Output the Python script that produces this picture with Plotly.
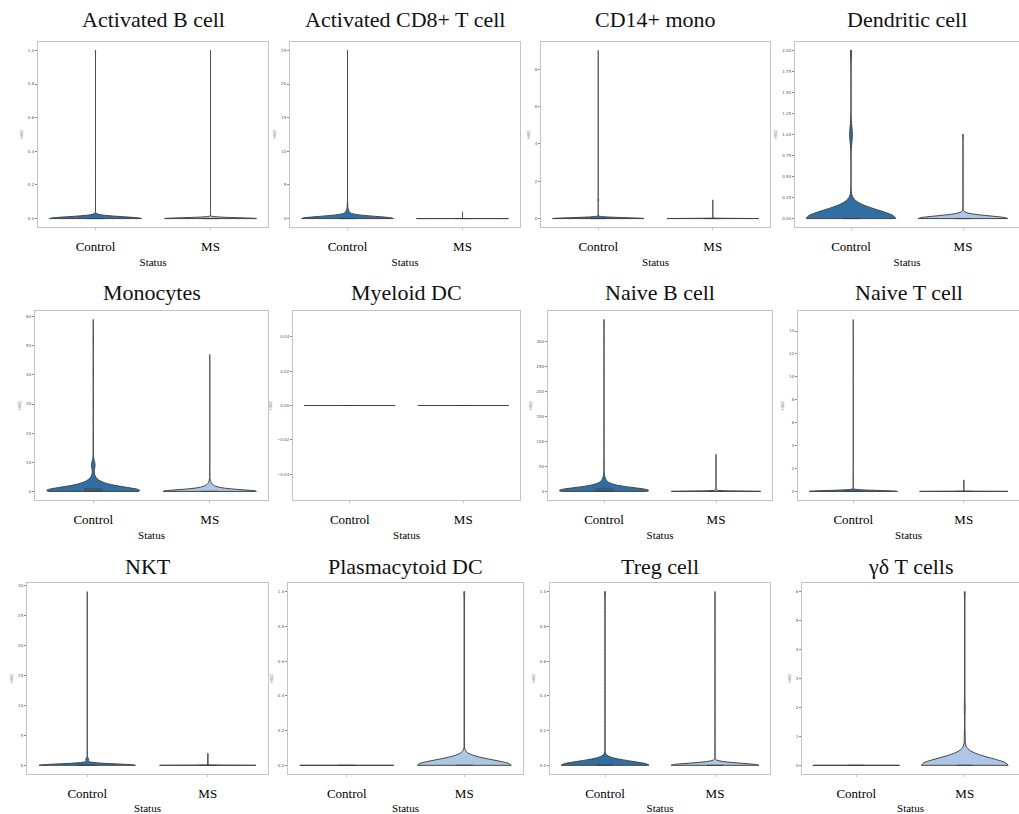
import numpy as np
import plotly.graph_objects as go

# ---------------- data ----------------
titles = ["Activated B cell", "Activated CD8+ T cell", "CD14+ mono", "Dendritic cell",
          "Monocytes", "Myeloid DC", "Naive B cell", "Naive T cell",
          "NKT", "Plasmacytoid DC", "Treg cell", "γδ T cells"]
categories = ["Control", "MS"]

# distinct expression values and number of cells at each value
control_values = [
    [0, 1], [0, 1, 2, 25], [0, 1, 9], [0, 1, 2],
    [0, 1, 2, 3, 4, 5, 6, 8, 9, 10, 12, 14, 17, 22, 25, 59], [0],
    [0, 2, 4, 6, 8, 10, 12, 15, 18, 22, 26, 30, 40, 55, 343], [0, 1, 2, 15],
    [0, 1, 2, 3, 29], [0], [0, 1], [0],
]
control_counts = [
    [2000, 5], [480, 15, 3, 1], [2000, 20, 1], [100, 3, 1],
    [300, 120, 60, 30, 12, 6, 4, 6, 8, 6, 2, 1, 1, 1, 1, 1], [200],
    [200, 80, 50, 35, 25, 18, 12, 10, 7, 5, 3, 2, 1, 1, 1], [2000, 15, 2, 1],
    [1000, 30, 5, 1, 1], [100], [1000, 9], [80],
]
ms_values = [
    [0, 1], [0, 1], [0, 1], [0, 1],
    [0, 1, 2, 3, 4, 6, 47], [0],
    [0, 1, 2, 3, 5, 8, 74], [0, 1],
    [0, 1, 2], [0, 1], [0, 1], [0, 1, 2, 6],
]
ms_counts = [
    [3000, 2], [2000, 2], [1500, 3], [300, 3],
    [500, 100, 30, 10, 4, 2, 1], [150],
    [800, 60, 20, 8, 4, 2, 1], [1500, 3],
    [1500, 4, 1], [300, 3], [2000, 6], [100, 1, 1, 1],
]
y_ticks = [
    [0.0, 0.2, 0.4, 0.6, 0.8, 1.0], [0, 5, 10, 15, 20, 25], [0, 2, 4, 6, 8],
    [0.0, 0.25, 0.5, 0.75, 1.0, 1.25, 1.5, 1.75, 2.0],
    [0, 10, 20, 30, 40, 50, 60], [-0.04, -0.02, 0.0, 0.02, 0.04],
    [0, 50, 100, 150, 200, 250, 300], [0, 2, 4, 6, 8, 10, 12, 14],
    [0, 5, 10, 15, 20, 25, 30], [0.0, 0.2, 0.4, 0.6, 0.8, 1.0],
    [0.0, 0.2, 0.4, 0.6, 0.8, 1.0], [0, 1, 2, 3, 4, 5, 6],
]
tick_formats = [".1f", "d", "d", ".2f", "d", ".2f", "d", "d", "d", ".1f", ".1f", "d"]
y_label = "HBD"
x_label = "Status"

# ---------------- layout geometry (pixels) ----------------
W, H = 1019, 814
col_edges = [
    [(38, 268), (290, 520), (541, 770), (795, 1019)],
    [(35, 268), (293, 520), (548, 772), (798, 1019)],
    [(27, 268), (288, 523), (550, 770), (802, 1019)],
]
row_edges = [(42, 227), (311, 500), (583, 774)]
title_y = [20, 292, 566]

colors = {"Control": "#2f6fa3", "MS": "#adc6e6"}
outline = "#444444"
serif = "Liberation Serif, Times New Roman, serif"


def scott_bw(samples):
    s = np.std(samples, ddof=1) if len(samples) > 1 else 0.0
    if s == 0:
        return None
    return float(s * len(samples) ** (-0.2))


fig = go.Figure()
annotations = []
layout_axes = {}

for i in range(12):
    r, c = divmod(i, 4)
    n = i + 1
    xs = "" if n == 1 else str(n)
    xa, ya = "x" + xs, "y" + xs
    x0, x1 = col_edges[r][c]
    y0, y1 = row_edges[r]

    series = [("Control", control_values[i], control_counts[i]),
              ("MS", ms_values[i], ms_counts[i])]
    allmax, allmin = -np.inf, np.inf
    for cat, vals, cnts in series:
        samples = np.repeat(np.array(vals, dtype=float), cnts)
        allmax = max(allmax, samples.max())
        allmin = min(allmin, samples.min())
        bw = scott_bw(samples)
        kw = dict(bandwidth=bw) if bw else {}
        fig.add_trace(go.Violin(
            x=[cat] * len(samples), y=samples, xaxis=xa, yaxis=ya,
            name=cat, showlegend=False, spanmode="hard", scalemode="width",
            width=0.8, points=False, fillcolor=colors[cat], opacity=1,
            line=dict(color=outline, width=1),
            box=dict(visible=True, width=0.18, fillcolor="rgba(70,70,70,0.35)",
                     line=dict(color="rgba(60,60,60,0.6)", width=0.6)),
            meanline=dict(visible=False), hoverinfo="skip", **kw))

    span = allmax - allmin
    if span == 0:
        yr = [allmin - 0.055, allmax + 0.055]
    else:
        yr = [allmin - 0.05 * span, allmax + 0.05 * span]

    layout_axes["xaxis" + xs] = dict(
        domain=[x0 / W, x1 / W], anchor=ya, type="category",
        categoryorder="array", categoryarray=categories, range=[-0.5, 1.5],
        showline=True, mirror=True, linecolor="#c4c4c4", linewidth=1,
        ticks="outside", ticklen=2, tickcolor="#c4c4c4", showgrid=False,
        zeroline=False, ticklabelstandoff=5,
        tickfont=dict(family=serif, size=13, color="#000"),
        title=dict(text=x_label, standoff=5,
                   font=dict(family=serif, size=11, color="#000")))
    layout_axes["yaxis" + xs] = dict(
        domain=[1 - y1 / H, 1 - y0 / H], anchor=xa, range=yr,
        tickvals=y_ticks[i], tickformat=tick_formats[i],
        showline=True, mirror=True, linecolor="#c4c4c4", linewidth=1,
        ticks="outside", ticklen=2, tickcolor="#888", showgrid=False,
        zeroline=False, tickfont=dict(family="DejaVu Sans", size=4, color="#555"),
        title=dict(text=y_label, standoff=4,
                   font=dict(family="DejaVu Sans", size=4, color="#555")))

    annotations.append(dict(
        text=titles[i], xref="paper", yref="paper",
        x=(x0 + x1) / 2 / W, y=1 - title_y[r] / H, xanchor="center", yanchor="middle",
        showarrow=False, font=dict(family=serif, size=22, color="#111")))

fig.update_layout(
    width=W, height=H, margin=dict(l=0, r=0, t=0, b=0),
    paper_bgcolor="white", plot_bgcolor="white", violinmode="overlay",
    annotations=annotations, **layout_axes)

fig.write_html("out.html")
